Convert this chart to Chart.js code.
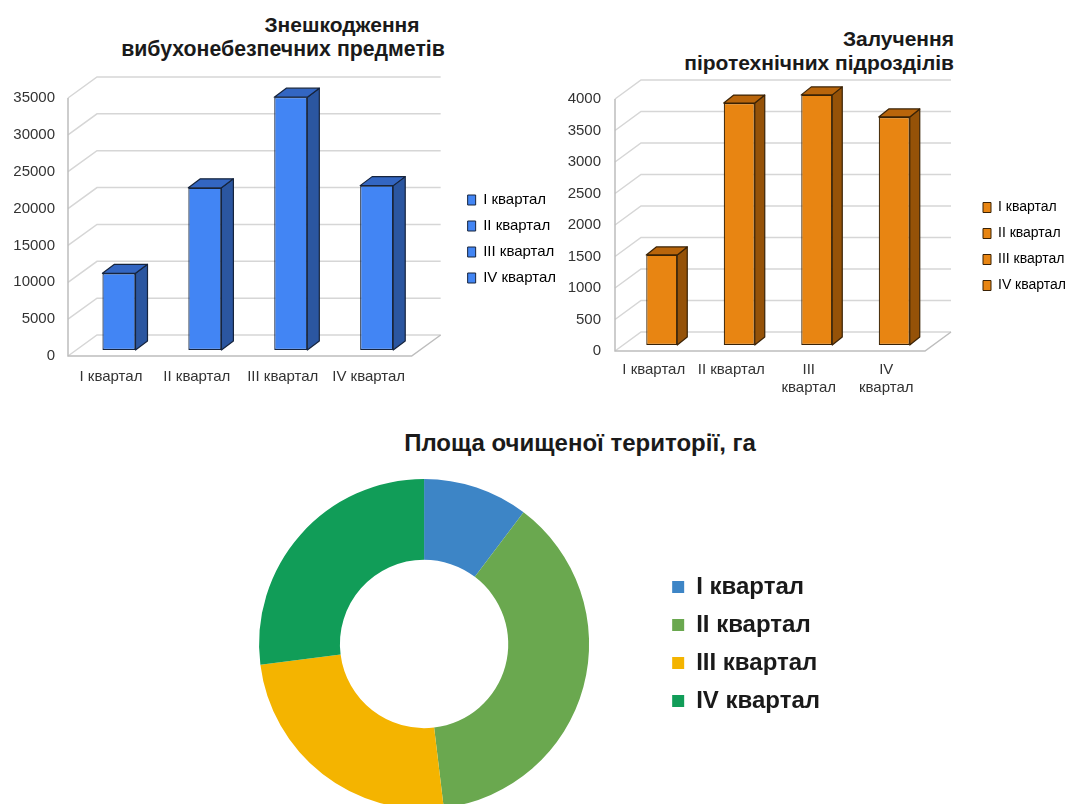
<!DOCTYPE html>
<html>
<head>
<meta charset="utf-8">
<script src="https://cdn.jsdelivr.net/npm/chart.js@4.4.1/dist/chart.umd.min.js"></script>
<style>
  body { margin: 0; background: #fff; width: 1067px; height: 804px; overflow: hidden; position: relative;
         font-family: "Liberation Sans", Arial, sans-serif; }
  canvas { position: absolute; }
  .title { position: absolute; font-weight: bold; color: #1a1a1a; white-space: nowrap; line-height: 1; }
</style>
</head>
<body>
<div class="title" style="font-size:21px; left:342px; top:14px; transform:translateX(-50%)">Знешкодження</div>
<div class="title" style="font-size:21.3px; left:283px; top:39px; transform:translateX(-50%)">вибухонебезпечних предметів</div>
<div class="title" style="font-size:21px; right:113px; top:28px; text-align:right">Залучення</div>
<div class="title" style="font-size:21px; right:113px; top:52px; text-align:right">піротехнічних підрозділів</div>
<div class="title" style="font-size:24px; left:580px; top:431px; transform:translateX(-50%)">Площа очищеної території, га</div>

<canvas id="neutralizedChart" width="566" height="400" style="left:0; top:0"></canvas>
<canvas id="unitsChart" width="526" height="400" style="left:550px; top:0"></canvas>
<canvas id="areaChart" width="640" height="330" style="left:190px; top:479px"></canvas>

<script>
// Quarters and values
const quarters = ['I квартал', 'II квартал', 'III квартал', 'IV квартал'];
const quartersWrapped = [['I квартал'], ['II квартал'], ['III', 'квартал'], ['IV', 'квартал']];
const neutralized = [10400, 22000, 34300, 22300];   // explosive objects neutralized
const pyroUnits = [1430, 3840, 3970, 3620];          // pyrotechnic units involved
const clearedArea = [10.3, 37.8, 24.9, 27.0];        // cleared area, ha (shares)
const areaColors = ['#3d85c6', '#6aa84f', '#f4b400', '#119d58'];

Chart.defaults.font.family = '"Liberation Sans", Arial, sans-serif';
Chart.defaults.color = '#333';

/**
 * Fake 3D look: back wall + floor lines, then side and top faces of every bar.
 * front/back are offsets of the front and back planes from the bar plane.
 */
function box3d(cfg) {
    return {
        id: 'box3d',
        beforeDatasetsDraw(chart) {
            const { ctx, chartArea: a } = chart;
            const y = chart.scales.y;
            const f = cfg.front, b = cfg.back;
            ctx.save();
            ctx.lineWidth = 1.5;
            ctx.strokeStyle = '#d6d6d6';
            y.ticks.forEach(t => {
                const py = y.getPixelForValue(t.value);
                ctx.beginPath();
                ctx.moveTo(a.left + f[0], py + f[1]);
                ctx.lineTo(a.left + b[0], py + b[1]);
                ctx.lineTo(a.right + b[0], py + b[1]);
                ctx.stroke();
            });
            const y0 = y.getPixelForValue(0);
            const yTop = y.getPixelForValue(y.max);
            ctx.strokeStyle = '#bdbdbd';
            ctx.beginPath();
            ctx.moveTo(a.left + f[0], yTop + f[1]);
            ctx.lineTo(a.left + f[0], y0 + f[1]);
            ctx.lineTo(a.right + f[0], y0 + f[1]);
            ctx.lineTo(a.right + b[0], y0 + b[1]);
            ctx.stroke();
            ctx.restore();
        },
        afterDatasetsDraw(chart) {
            const ctx = chart.ctx;
            const [dx, dy] = cfg.depth;
            chart.getDatasetMeta(0).data.forEach(bar => {
                const { x, y, base, width } = bar.getProps(['x', 'y', 'base', 'width'], true);
                const l = x - width / 2, r = x + width / 2;
                ctx.save();
                ctx.lineWidth = 1.2;
                ctx.lineJoin = 'round';
                ctx.strokeStyle = cfg.edge;
                // side face
                ctx.fillStyle = cfg.side;
                ctx.beginPath();
                ctx.moveTo(r, y);
                ctx.lineTo(r + dx, y + dy);
                ctx.lineTo(r + dx, base + dy);
                ctx.lineTo(r, base);
                ctx.closePath();
                ctx.fill();
                ctx.stroke();
                // top face
                ctx.fillStyle = cfg.top;
                ctx.beginPath();
                ctx.moveTo(l, y);
                ctx.lineTo(l + dx, y + dy);
                ctx.lineTo(r + dx, y + dy);
                ctx.lineTo(r, y);
                ctx.closePath();
                ctx.fill();
                ctx.stroke();
                ctx.restore();
            });
        }
    };
}

function barChart(canvasId, opts) {
    const legendLabels = () => quarters.map((q, i) => ({
        text: q,
        fillStyle: opts.color,
        strokeStyle: opts.edge,
        lineWidth: 1,
        hidden: false,
        index: i,
        datasetIndex: 0
    }));

    return new Chart(document.getElementById(canvasId), {
        type: 'bar',
        data: {
            labels: opts.labels,
            datasets: [{
                data: opts.values,
                backgroundColor: opts.color,
                borderColor: opts.edge,
                borderWidth: 1.2,
                borderSkipped: false,
                categoryPercentage: 1,
                barPercentage: opts.barPct
            }]
        },
        options: {
            responsive: false,
            animation: false,
            layout: { padding: { top: opts.padTop, bottom: opts.padBottom, left: 0, right: 0 } },
            plugins: {
                legend: {
                    position: 'right',
                    maxWidth: 200,
                    labels: {
                        boxWidth: 8,
                        boxHeight: 10,
                        padding: opts.legendPad,
                        color: '#333',
                        font: { size: opts.legendSize },
                        generateLabels: legendLabels
                    }
                },
                tooltip: { enabled: false }
            },
            scales: {
                x: {
                    grid: { display: false, drawTicks: false },
                    border: { display: false },
                    ticks: {
                        font: { size: 15 },
                        color: '#333',
                        padding: opts.xPad,
                        labelOffset: opts.front[0],
                        maxRotation: 0,
                        autoSkip: false
                    },
                    afterFit: s => { s.height = opts.xHeight; }
                },
                y: {
                    min: 0,
                    max: opts.max,
                    grid: { display: false, drawTicks: false },
                    border: { display: false },
                    ticks: {
                        stepSize: opts.step,
                        font: { size: 15 },
                        color: '#333',
                        padding: opts.yPad,
                        labelOffset: opts.front[1],
                        callback: v => String(v)
                    },
                    afterFit: s => { s.width = opts.yWidth; }
                },
                gap: {
                    type: 'linear',
                    position: 'right',
                    grid: { display: false, drawTicks: false },
                    border: { display: false },
                    ticks: { display: false },
                    afterFit: s => { s.width = opts.gap; }
                }
            }
        },
        plugins: [box3d({ front: opts.front, back: opts.back, depth: opts.depth,
                          side: opts.side, top: opts.top, edge: opts.edge })]
    });
}

barChart('neutralizedChart', {
    labels: quarters,
    values: neutralized,
    max: 35000,
    step: 5000,
    color: '#4285f4',
    side: '#2b56a0',
    top: '#3366c2',
    edge: '#16243d',
    barPct: 0.385,
    front: [-8, 6],
    back: [21, -15],
    depth: [12, -9],
    padTop: 92,
    padBottom: 14,
    xHeight: 36,
    xPad: 18,
    yWidth: 76,
    yPad: 21,
    gap: 37,
    legendSize: 15,
    legendPad: 11
});

barChart('unitsChart', {
    labels: quartersWrapped,
    values: pyroUnits,
    max: 4000,
    step: 500,
    color: '#e88512',
    side: '#955208',
    top: '#b9650b',
    edge: '#3a2205',
    barPct: 0.4,
    front: [-8, 6],
    back: [18, -13],
    depth: [10, -8],
    padTop: 93,
    padBottom: 0,
    xHeight: 55,
    xPad: 16,
    yWidth: 73,
    yPad: 22,
    gap: 38,
    legendSize: 14,
    legendPad: 12
});

new Chart(document.getElementById('areaChart'), {
    type: 'doughnut',
    data: {
        labels: quarters,
        datasets: [{
            data: clearedArea,
            backgroundColor: areaColors,
            borderWidth: 0
        }]
    },
    options: {
        responsive: false,
        animation: false,
        cutout: '51%',
        layout: { padding: 0 },
        plugins: {
            legend: {
                position: 'right',
                maxWidth: 300,
                labels: {
                    boxWidth: 12,
                    boxHeight: 12,
                    padding: 14,
                    color: '#1a1a1a',
                    font: { size: 24, weight: 'bold' }
                }
            },
            tooltip: { enabled: false }
        }
    }
});
</script>
</body>
</html>
